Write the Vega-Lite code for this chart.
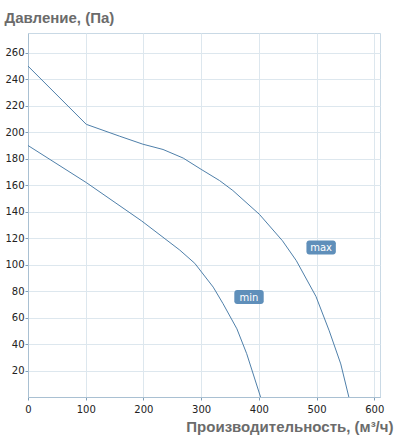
{
  "$schema": "https://vega.github.io/schema/vega-lite/v6.json",
  "width": 352,
  "height": 364,
  "autosize": {"type": "none"},
  "padding": {"left": 28, "top": 33, "right": 20, "bottom": 41},
  "background": "white",
  "config": {
    "view": {"stroke": "#c9d9e5", "strokeWidth": 1},
    "font": "DejaVu Sans"
  },
  "datasets": {
    "curves": [
      {"series": "max", "q": 0, "p": 250},
      {"series": "max", "q": 101, "p": 206},
      {"series": "max", "q": 159, "p": 197},
      {"series": "max", "q": 199, "p": 191},
      {"series": "max", "q": 234, "p": 187},
      {"series": "max", "q": 269, "p": 180.5},
      {"series": "max", "q": 300, "p": 172},
      {"series": "max", "q": 332, "p": 163.5},
      {"series": "max", "q": 355, "p": 156},
      {"series": "max", "q": 401, "p": 138},
      {"series": "max", "q": 441, "p": 118},
      {"series": "max", "q": 465, "p": 103},
      {"series": "max", "q": 499, "p": 76},
      {"series": "max", "q": 522, "p": 50},
      {"series": "max", "q": 542, "p": 25},
      {"series": "max", "q": 556, "p": 0},
      {"series": "min", "q": 0, "p": 190},
      {"series": "min", "q": 101, "p": 162},
      {"series": "min", "q": 197, "p": 133},
      {"series": "min", "q": 263, "p": 111},
      {"series": "min", "q": 289, "p": 101},
      {"series": "min", "q": 321, "p": 83},
      {"series": "min", "q": 338, "p": 70.5},
      {"series": "min", "q": 362, "p": 51.5},
      {"series": "min", "q": 379, "p": 32.7},
      {"series": "min", "q": 403, "p": 0}
    ],
    "labels": [
      {"label": "max", "q": 508, "p": 113},
      {"label": "min", "q": 383, "p": 75.5}
    ]
  },
  "encoding": {
    "x": {
      "field": "q", "type": "quantitative",
      "scale": {"domain": [0, 610], "nice": false, "zero": false},
      "axis": {
        "values": [0, 100, 200, 300, 400, 500, 600],
        "title": "Производительность, (м³/ч)",
        "titleFont": "Liberation Sans", "titleFontSize": 15, "titleFontWeight": "bold", "titleColor": "#6b6b6b",
        "titleAlign": "right", "titleAnchor": null, "titleBaseline": "alphabetic",
        "titleX": 365, "titleY": 34,
        "labelFont": "DejaVu Sans", "labelFontSize": 10, "labelColor": "#222222", "labelPadding": 4,
        "domainColor": "#a9c0d2", "tickColor": "#7f9fb8", "tickSize": 3,
        "grid": true, "gridColor": "#dde7ee", "labelFlush": false
      }
    },
    "y": {
      "field": "p", "type": "quantitative",
      "scale": {"domain": [0, 275], "nice": false},
      "axis": {
        "values": [20, 40, 60, 80, 100, 120, 140, 160, 180, 200, 220, 240, 260],
        "title": "Давление, (Па)",
        "titleFont": "Liberation Sans", "titleFontSize": 15, "titleFontWeight": "bold", "titleColor": "#6b6b6b",
        "titleAngle": 0, "titleAlign": "left", "titleAnchor": null, "titleBaseline": "alphabetic",
        "titleX": -24, "titleY": -11,
        "labelFont": "DejaVu Sans", "labelFontSize": 10, "labelColor": "#222222", "labelPadding": 1,
        "domainColor": "#a9c0d2", "tickColor": "#7f9fb8", "tickSize": 3,
        "grid": true, "gridColor": "#dde7ee"
      }
    }
  },
  "layer": [
    {
      "data": {"name": "curves"},
      "mark": {"type": "line", "color": "#4f80aa", "strokeWidth": 1},
      "encoding": {"detail": {"field": "series"}}
    },
    {
      "data": {"name": "labels"},
      "mark": {
        "type": "point", "filled": true, "fill": "#5f8fba", "opacity": 1, "strokeWidth": 0,
        "size": 784,
        "shape": "M-0.85,-0.5 L0.85,-0.5 A0.2,0.2 0 0 1 1.05,-0.3 L1.05,0.3 A0.2,0.2 0 0 1 0.85,0.5 L-0.85,0.5 A0.2,0.2 0 0 1 -1.05,0.3 L-1.05,-0.3 A0.2,0.2 0 0 1 -0.85,-0.5 Z"
      }
    },
    {
      "data": {"name": "labels"},
      "mark": {"type": "text", "color": "white", "font": "DejaVu Sans", "fontSize": 10, "baseline": "middle", "align": "center", "dy": 0.5},
      "encoding": {"text": {"field": "label"}}
    }
  ]
}
